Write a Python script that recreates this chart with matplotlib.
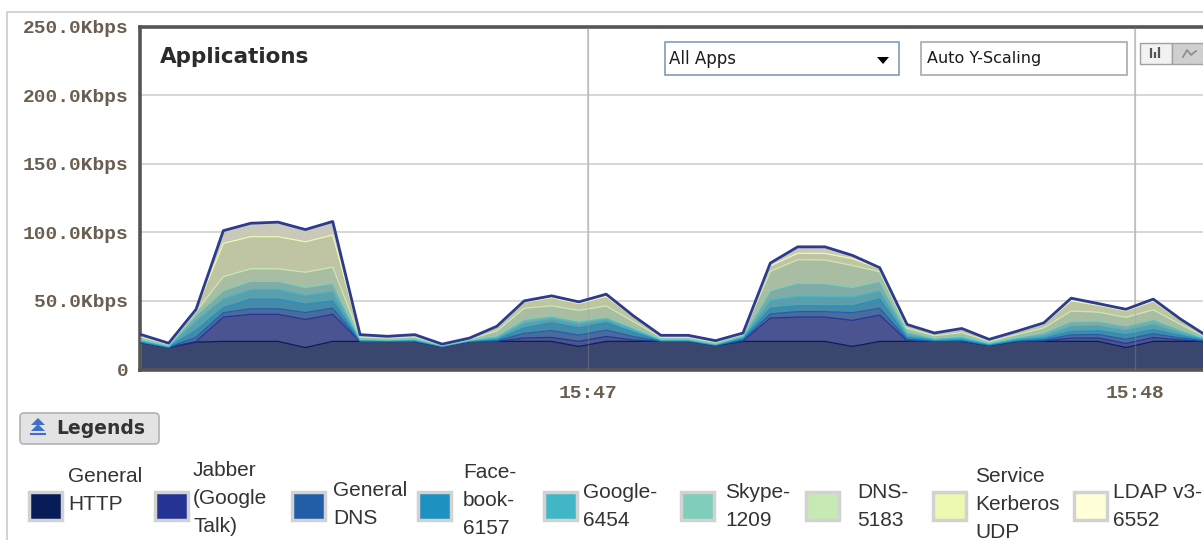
import matplotlib
matplotlib.use("Agg")
import matplotlib.pyplot as plt
from matplotlib.colors import to_rgb
from matplotlib.patches import Rectangle, FancyBboxPatch, Polygon
import numpy as np

# samples every 3 s, seconds after 15:46:00
seconds = list(range(11, 131, 3))

# Kbps per application (stack order, bottom first)
http = [19.5, 16.0, 20.0, 20.5, 20.5, 20.5, 16.0, 20.5, 20.5, 20.5,
        20.5, 16.8, 20.5, 20.5, 20.5, 20.5, 16.8, 20.5, 20.5, 20.5,
        20.5, 17.5, 20.5, 20.5, 20.5, 20.5, 16.8, 20.5, 20.5, 20.5,
        20.5, 17.5, 20.5, 20.5, 20.5, 20.5, 16.0, 20.5, 20.5, 20.5]
jabber = [0, 0, 0.5, 17.7, 19.7, 19.7, 20.5, 19.7, 0, 0,
          0, 0, 0, 0, 2.5, 2.9, 3.7, 3.6, 1.0, 0,
          0, 0, 0.3, 17.0, 17.7, 17.7, 19.0, 19.2, 0.5, 0,
          0, 0, 0, 0.3, 2.4, 2.5, 3.0, 2.8, 1.0, 0]
general_dns = [0.2, 0.1, 3.0, 3.2, 4.1, 4.1, 5.0, 4.5, 0.2, 0.1,
               0.2, 0, 0.1, 0.5, 3.3, 5.0, 4.6, 4.6, 2.5, 0.2,
               0.2, 0.1, 0.8, 3.0, 4.0, 4.0, 5.6, 4.9, 1.0, 0.3,
               0.5, 0.2, 0.3, 0.8, 2.4, 2.5, 3.0, 2.8, 1.5, 0.2]
facebook = [0.4, 0.2, 5.0, 3.6, 7.0, 7.0, 6.1, 5.3, 0.3, 0.2,
            0.3, 0.1, 0.1, 0.8, 4.0, 5.6, 5.2, 5.3, 3.0, 0.3,
            0.3, 0.2, 1.0, 4.0, 4.3, 4.2, 4.9, 6.7, 1.5, 0.4,
            0.7, 0.3, 0.5, 1.2, 2.5, 2.8, 3.2, 3.0, 1.8, 0.3]
google = [0.8, 0.4, 7.0, 6.5, 7.0, 7.0, 6.5, 6.8, 0.6, 0.4,
          0.6, 0.2, 0.3, 1.2, 3.5, 3.0, 2.9, 2.4, 1.8, 0.5,
          0.5, 0.4, 1.0, 6.0, 6.7, 6.6, 6.5, 6.0, 2.0, 0.8,
          1.2, 0.6, 1.0, 2.0, 4.0, 3.8, 3.6, 4.0, 2.2, 0.5]
skype = [0.8, 0.5, 4.0, 5.9, 6.0, 6.0, 5.7, 6.0, 0.6, 0.5,
         0.6, 0.3, 0.4, 1.5, 2.7, 2.0, 2.0, 1.8, 1.5, 0.6,
         0.6, 0.5, 1.0, 7.0, 9.8, 9.6, 7.0, 7.0, 2.0, 0.8,
         1.3, 0.6, 1.0, 2.0, 3.4, 3.2, 3.0, 3.4, 2.0, 0.5]
dns_5183 = [1.8, 1.0, 2.5, 10.3, 9.1, 9.1, 11.1, 11.8, 1.5, 1.2,
            1.5, 0.5, 0.7, 3.5, 8.1, 7.4, 7.9, 8.1, 4.5, 1.3,
            1.3, 1.1, 1.2, 14.0, 17.0, 17.2, 16.0, 7.0, 2.5, 1.8,
            2.7, 1.3, 2.1, 3.5, 7.4, 6.5, 6.2, 7.0, 3.8, 1.0]
kerberos = [1.5, 0.8, 1.5, 24.2, 23.4, 23.4, 22.2, 23.4, 1.4, 1.1,
            1.4, 0.5, 0.6, 3.0, 4.5, 6.0, 5.0, 7.0, 3.5, 1.2,
            1.2, 1.0, 0.6, 4.0, 4.7, 4.8, 5.0, 2.2, 2.3, 1.6,
            2.4, 1.2, 1.9, 3.0, 7.5, 5.0, 4.8, 6.3, 3.2, 0.8]
ldap = [0.4, 0.2, 0.3, 9.3, 9.8, 10.6, 8.9, 9.9, 0.3, 0.2,
        0.3, 0.1, 0.2, 0.5, 0.9, 1.3, 1.2, 1.6, 0.7, 0.3,
        0.3, 0.2, 0.2, 2.1, 4.7, 4.8, 2.4, 0.7, 0.5, 0.4,
        0.6, 0.3, 0.5, 0.7, 1.9, 1.2, 1.1, 1.5, 0.7, 0.2]

series = [http, jabber, general_dns, facebook, google, skype, dns_5183, kerberos, ldap]
labels = ["General\nHTTP", "Jabber\n(Google\nTalk)", "General\nDNS", "Face-\nbook-\n6157",
          "Google-\n6454", "Skype-\n1209", "DNS-\n5183", "Service\nKerberos\nUDP", "LDAP v3-\n6552"]
colors = ["#081d58", "#253494", "#225ea8", "#1d91c0", "#41b6c4",
          "#7fcdbb", "#c7e9b4", "#edf8b1", "#ffffd9"]

y_ticks = [0, 50, 100, 150, 200, 250]
y_labels = ["0", "50.0Kbps", "100.0Kbps", "150.0Kbps", "200.0Kbps", "250.0Kbps"]
x_ticks = [60, 120]
x_labels = ["15:47", "15:48"]


def muted(c):
    # area fills are the palette colour washed towards grey
    r, g, b = to_rgb(c)
    return (0.58 * r + 0.21, 0.58 * g + 0.21, 0.58 * b + 0.231)


W, H = 1203, 540
fig = plt.figure(figsize=(W / 100, H / 100), dpi=100)
ax = fig.add_axes([140 / W, 1 - 369.5 / H, (1230 - 140) / W, 343 / H])
ax.set_xlim(10.86, 130.42)
ax.set_ylim(0, 250)

ax.stackplot(seconds, *series, colors=[muted(c) for c in colors], linewidth=0, zorder=2)
tops = np.cumsum(np.array(series), axis=0)
for top, c in zip(tops[:-1], colors[:-1]):
    ax.plot(seconds, top, color=c, lw=0.9, zorder=3)
ax.plot(seconds, tops[-1], color="#2d3a8f", lw=2.0, zorder=6, solid_joinstyle="round")

ax.set_axisbelow(True)
ax.grid(axis="y", color="#d6d6d6", lw=1.4)
ax.set_yticks(y_ticks, y_labels)
ax.set_xticks(x_ticks, x_labels)
for x in x_ticks:
    ax.axvline(x, color="#c6c6c6", lw=1.2, zorder=1)
    ax.axvline(x, color="#9a9a9a", lw=1.0, alpha=0.3, zorder=5)
ax.tick_params(length=0, labelsize=14, labelcolor="#6a5e50")
ax.tick_params(axis="y", pad=8.5)
ax.tick_params(axis="x", pad=11)
for lab in ax.get_xticklabels() + ax.get_yticklabels():
    lab.set_family("Liberation Mono")
    lab.set_fontweight("bold")
for s in ["left", "top", "bottom"]:
    ax.spines[s].set_color("#555555")
    ax.spines[s].set_linewidth(2.6)
ax.spines["right"].set_visible(False)

# page chrome in pixel coordinates
ui = fig.add_axes([0, 0, 1, 1], zorder=10)
ui.set_xlim(0, W)
ui.set_ylim(H, 0)
ui.axis("off")
ui.patch.set_alpha(0)

ui.plot([7, 7, W], [H, 12, 12], color="#cccccc", lw=1.2)
ui.text(160, 57, "Applications", fontsize=15.5, fontweight="bold", color="#2b2b2b",
        va="center", family="DejaVu Sans")

ui.add_patch(Rectangle((665, 42), 234, 33, fc="white", ec="#7f9db9", lw=1.2))
ui.text(669, 59, "All Apps", fontsize=12, va="center", color="#1a1a1a", family="DejaVu Sans")
ui.add_patch(Polygon([(877, 57), (889, 57), (883, 64)], closed=True, fc="black", ec="none"))
ui.add_patch(Rectangle((921, 42), 206, 33, fc="white", ec="#a9a9a9", lw=1.2))
ui.text(927, 59, "Auto Y-Scaling", fontsize=11.5, va="center", color="#1a1a1a", family="DejaVu Sans")

ui.add_patch(Rectangle((1140, 43), 32, 21, fc="#f2f2f2", ec="#a0a0a0", lw=1))
ui.add_patch(Rectangle((1172, 43), 40, 21, fc="#cfcfcf", ec="#a0a0a0", lw=1))
for bx, top in [(1151, 48), (1155, 52), (1159, 47)]:
    ui.plot([bx, bx], [58, top], color="#555555", lw=1.6, solid_capstyle="butt")
ui.plot([1183, 1187, 1191, 1196], [57, 50, 55, 51], color="#8a8a8a", lw=1.2)

ui.add_patch(FancyBboxPatch((20, 413), 139, 31, boxstyle="round,pad=0,rounding_size=4",
                            fc="#e3e3e3", ec="#b2b2b2", lw=1.2))
ui.add_patch(Polygon([(31, 425), (45, 425), (38, 418)], closed=True, fc="#3f6fc6", ec="none"))
ui.add_patch(Polygon([(31, 431), (45, 431), (38, 424)], closed=True, fc="#3f6fc6", ec="none"))
ui.plot([31, 45], [434, 434], color="#3f6fc6", lw=1.5)
ui.text(56, 428, "Legends", fontsize=13.5, fontweight="bold", color="#333333",
        va="center", family="DejaVu Sans")

swatch_x = [29, 155, 292, 418, 544, 681, 806, 933, 1074]
label_x = [68, 193, 333, 463, 583, 725, 857, 975, 1113]
label_y = [491, 499, 504, 500, 506, 506, 506, 505, 506]
for sx, lx, ly, lab, c in zip(swatch_x, label_x, label_y, labels, colors):
    ui.add_patch(Rectangle((sx, 492), 33, 28, fc=c, ec="#d2d2d2", lw=2.5))
    ui.text(lx, ly, lab, fontsize=15, va="center", ha="left", color="#333333",
            family="Liberation Sans", linespacing=1.6)

fig.savefig("out.png", dpi=100)
